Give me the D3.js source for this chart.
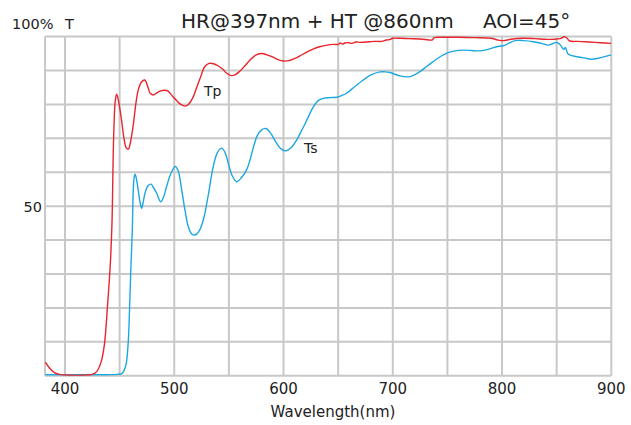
<!DOCTYPE html>
<html>
<head>
<meta charset="utf-8">
<script src="https://cdn.jsdelivr.net/npm/d3@7"></script>
<style>
  html, body { margin: 0; padding: 0; background: #fff; }
  svg { display: block; font-family: "DejaVu Sans", Verdana, sans-serif; }
</style>
</head>
<body>
<svg id="chart" width="631" height="425"></svg>
<script>
// ---- data ----
const xTicks = [400, 500, 600, 700, 800, 900];
const xGrid = [400, 450, 500, 550, 600, 650, 700, 750, 800, 850, 900];
const yGrid = [0, 10, 20, 30, 40, 50, 60, 70, 80, 90, 100];
const yTickLabels = [50];

const tpWl = [382,386,390,395,400,420,425,429,433,436,439,441.5,443,444.5,446,447.3,449,451.5,454,456,458,460,462.5,465,467,470,473,476,478,481,484,487,491,494,498,502,506,510,513,517,520,524,528,532,536,540,544,548,552,556,560,565,570,575,580,585,590,595,600,605,610,615,620,627,633,640,646,650,652,654,656,660,663,666,670,676,682,690,694,697,700,707,715,725,733,736,738,745,760,775,790,796,801,808,819,830,840,848,854,857,859.5,862,870,880,890,900];
const tpVal = [4.0,2.2,1.0,0.4,0.2,0.2,0.4,1.2,4.0,9,21,33,45,70,81,83,81,76,70,67.2,66.8,69,74,80.5,84.2,86.6,87.2,85,83.3,82.8,83.4,83.9,84.2,84,82.6,81.2,80,79.5,80,82,84.5,88,91.2,92.1,92.0,91.4,90.5,89.2,88.5,88.8,89.8,91.5,93.3,94.6,95.0,94.6,94,93.2,92.8,92.9,93.5,94.3,95.2,96.3,97,97.5,97.7,97.7,98.1,97.8,98.1,98.2,98.0,98.4,98.3,98.4,98.6,98.6,99.0,99.1,99.5,99.5,99.4,99.3,99.0,99.0,99.7,99.8,99.8,99.7,99.5,99.0,98.8,99.2,99.5,99.4,99.2,99.2,99.5,100,99.5,98.7,98.6,98.4,98.2,98.0];

const tsWl = [382,440,448,452,454,456,458,459,460.1,461.6,462.5,463.3,464.2,465.5,467,468.8,470.1,471.5,473.2,476,478.7,481,483.9,487.5,490,493,497,500.9,503.5,506.8,510,512.9,516,519,522.5,526.6,531,535.7,539.5,543.4,546.5,549.5,553,557.1,561,566.2,569.3,573,576,580,584,588,593.8,598,602.3,607,612,618,622,627.3,632,636.4,642,648.7,653,657.8,665,673,680,688.3,693,697.4,706.6,715.8,725,731,737,744,750.8,757,764.5,772,779.8,788,795,801,806,812,820,828.6,836,842.4,846,850,852.5,855,856.5,858,859,860.4,864,871.4,877,882,888,894,900];
const tsVal = [0.3,0.3,0.4,0.6,1.5,3.5,10.5,19,30,43,54.8,58.5,59.4,57.8,54.8,51,49.4,51,53.8,56,56.5,55.5,53.8,51.3,52.5,55.8,59.7,61.7,60.5,54.8,48.5,43.9,41.8,41.5,42.5,45.9,53,61.7,65.8,67.1,65.8,62.6,59,57.2,58.2,60.7,63.6,68,70.8,72.5,72.9,71.6,68.5,66.8,66.3,67.3,69.5,73.2,75.8,79.3,81.2,81.8,82,82.1,82.6,83.3,85.2,87.2,88.7,89.6,89.6,89.4,88.4,88.2,89.7,91.2,92.6,94.2,95.3,95.8,96.0,95.9,95.8,96.3,97.0,97.3,98.0,98.8,98.8,98.5,98.0,97.5,97.9,98.3,97.8,96.8,96.2,96.8,96.0,94.9,94.4,93.9,93.6,93.3,93.6,94.1,94.6];

const seriesNames = ["Tp", "Ts"];
const seriesColors = ["#e8242c", "#1ba8e0"];

// ---- chart ----
const svg = d3.select("#chart");
const x = d3.scaleLinear().domain([381.7, 900]).range([45, 611.3]);
const y = d3.scaleLinear().domain([0, 100]).range([375.7, 36.6]);

const gridColor = "#c8c8c8";
const g = svg.append("g");

g.selectAll("line.v").data(xGrid).enter().append("line")
  .attr("x1", d => x(d)).attr("x2", d => x(d))
  .attr("y1", y(0)).attr("y2", y(100))
  .attr("stroke", gridColor).attr("stroke-width", 2);
// left border
g.append("line").attr("x1", x(381.7)).attr("x2", x(381.7))
  .attr("y1", y(0)).attr("y2", y(100))
  .attr("stroke", gridColor).attr("stroke-width", 2);
g.selectAll("line.h").data(yGrid).enter().append("line")
  .attr("x1", x(381.7)).attr("x2", x(900))
  .attr("y1", d => y(d)).attr("y2", d => y(d))
  .attr("stroke", gridColor).attr("stroke-width", 2);

svg.append("clipPath").attr("id", "clip").append("rect")
  .attr("x", x(381.7)).attr("y", y(100) - 2)
  .attr("width", x(900) - x(381.7)).attr("height", y(0) - y(100) + 2);

const line = d3.line().x(d => x(d[0])).y(d => y(d[1])).curve(d3.curveCatmullRom.alpha(0.5));
const tp = tpWl.map((w, i) => [w, tpVal[i]]);
const ts = tsWl.map((w, i) => [w, tsVal[i]]);

const lines = svg.append("g").attr("clip-path", "url(#clip)");
lines.append("path").datum(ts).attr("d", line)
  .attr("fill", "none").attr("stroke", seriesColors[1]).attr("stroke-width", 1.4);
lines.append("path").datum(tp).attr("d", line)
  .attr("fill", "none").attr("stroke", seriesColors[0]).attr("stroke-width", 1.4);

const textColor = "#222";
// x tick labels
svg.selectAll("text.xt").data(xTicks).enter().append("text")
  .attr("x", d => x(d)).attr("y", 394)
  .attr("text-anchor", "middle").attr("font-size", 15).attr("fill", textColor)
  .text(d => d);
// y tick label
svg.selectAll("text.yt").data(yTickLabels).enter().append("text")
  .attr("x", 42).attr("y", y(50) + 6)
  .attr("text-anchor", "end").attr("font-size", 14.5).attr("fill", textColor)
  .text(d => d);

svg.append("text").attr("x", 12).attr("y", 29).attr("font-size", 14.5).attr("fill", textColor).text("100%");
svg.append("text").attr("x", 65).attr("y", 29).attr("font-size", 14.5).attr("fill", textColor).text("T");

svg.append("text").attr("x", 181).attr("y", 27.5).attr("font-size", 20).attr("fill", textColor)
  .text("HR@397nm + HT @860nm");
svg.append("text").attr("x", 483).attr("y", 27.5).attr("font-size", 20).attr("fill", textColor)
  .text("AOI=45°");

svg.append("text").attr("x", 333).attr("y", 417).attr("text-anchor", "middle")
  .attr("font-size", 15).attr("fill", textColor).text("Wavelength(nm)");

svg.append("text").attr("x", 204).attr("y", 96).attr("font-size", 14).attr("fill", textColor).text(seriesNames[0]);
svg.append("text").attr("x", 304).attr("y", 153).attr("font-size", 14).attr("fill", textColor).text(seriesNames[1]);
</script>
</body>
</html>
